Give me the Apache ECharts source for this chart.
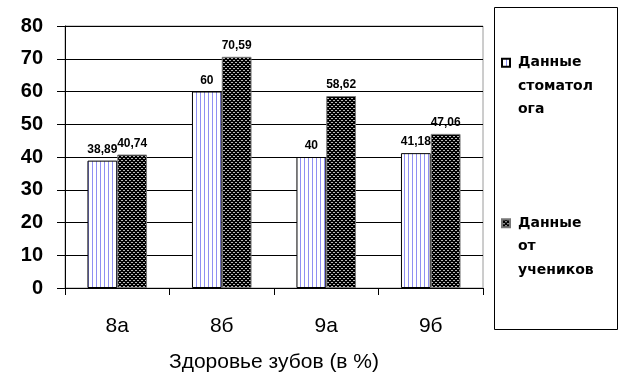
<!DOCTYPE html>
<html>
<head>
<meta charset="utf-8">
<script src="https://cdn.jsdelivr.net/npm/echarts@6/dist/echarts.min.js"></script>
<style>html,body{margin:0;padding:0;background:#fff;}#c{width:622px;height:384px;}</style>
</head>
<body>
<div id="c"></div>
<script>
var categories = ['8а', '8б', '9а', '9б'];
var dentistValues = [38.89, 60, 40, 41.18];
var studentValues = [40.74, 70.59, 58.62, 47.06];
var seriesNames = ['Данные\nстоматол\nога', 'Данные\nот\nучеников'];
var yTicks = [0, 10, 20, 30, 40, 50, 60, 70, 80];
var axisTitle = 'Здоровье зубов (в %)';

function stripePattern() {
  var c = document.createElement('canvas');
  c.width = 4; c.height = 1;
  var g = c.getContext('2d');
  g.fillStyle = '#ffffff'; g.fillRect(0, 0, 4, 1);
  g.fillStyle = '#8f8ff2'; g.fillRect(0, 0, 1, 1);
  return c;
}
function dotPattern() {
  var c = document.createElement('canvas');
  c.width = 4; c.height = 4;
  var g = c.getContext('2d');
  g.fillStyle = '#000000'; g.fillRect(0, 0, 4, 4);
  g.fillStyle = '#b8b8b8';
  g.fillRect(1, 0, 2, 1);
  g.fillRect(3, 2, 1, 1);
  g.fillRect(0, 2, 1, 1);
  return c;
}

function fmt(v) { return String(v).replace('.', ','); }

var chart = echarts.init(document.getElementById('c'), null, {renderer: 'canvas'});
chart.setOption({
  animation: false,
  backgroundColor: '#ffffff',
  grid: {left: 65, right: 139, top: 26, bottom: 96, show: true, borderColor: '#9a9a9a', borderWidth: 1, containLabel: false},
  xAxis: {
    type: 'category',
    data: categories,
    name: axisTitle,
    nameLocation: 'middle',
    nameGap: 64,
    nameTextStyle: {fontFamily: 'Arial', fontSize: 21, color: '#000'},
    axisLine: {lineStyle: {color: '#000', width: 1}},
    axisTick: {show: true, length: 7, lineStyle: {color: '#000'}},
    axisLabel: {fontFamily: 'Arial', fontSize: 21, color: '#000', margin: 28}
  },
  yAxis: {
    type: 'value',
    min: yTicks[0],
    max: yTicks[yTicks.length - 1],
    interval: 10,
    axisLine: {show: true, lineStyle: {color: '#000', width: 1}},
    axisTick: {show: true, length: 8, lineStyle: {color: '#000'}},
    axisLabel: {fontFamily: 'Arial', fontWeight: 'bold', fontSize: 20, color: '#000', margin: 22},
    splitLine: {show: true, lineStyle: {color: '#000', width: 1}}
  },
  legend: {
    orient: 'vertical',
    left: 501,
    top: 4,
    padding: 0,
    itemGap: 43,
    itemWidth: 8,
    itemHeight: 8,
    icon: 'rect',
    formatter: function (name) { return '\n\n' + name; },
    textStyle: {fontFamily: 'DejaVu Sans', fontWeight: 'bold', fontSize: 14, color: '#000', lineHeight: 23.5, padding: [0, 0, 0, 3]},
    data: seriesNames
  },
  graphic: [{
    type: 'rect', left: 492, top: 5,
    shape: {width: 123, height: 322},
    style: {fill: 'none', stroke: '#000', lineWidth: 1},
    silent: true, z: -1
  }],
  series: [{
    name: seriesNames[0],
    type: 'bar',
    data: dentistValues,
    barWidth: '28.5%',
    barGap: '0%',
    itemStyle: {color: {image: stripePattern(), repeat: 'repeat'}, borderColor: '#000', borderWidth: 1},
    label: {show: true, position: 'top', distance: 5, formatter: function (p) { return fmt(p.value); },
      fontFamily: 'Arial', fontWeight: 'bold', fontSize: 12, color: '#000'}
  }, {
    name: seriesNames[1],
    type: 'bar',
    data: studentValues,
    barWidth: '28.5%',
    itemStyle: {color: {image: dotPattern(), repeat: 'repeat'}, borderColor: '#777', borderWidth: 1},
    label: {show: true, position: 'top', distance: 5, formatter: function (p) { return fmt(p.value); },
      fontFamily: 'Arial', fontWeight: 'bold', fontSize: 12, color: '#000'}
  }]
});
</script>
</body>
</html>
